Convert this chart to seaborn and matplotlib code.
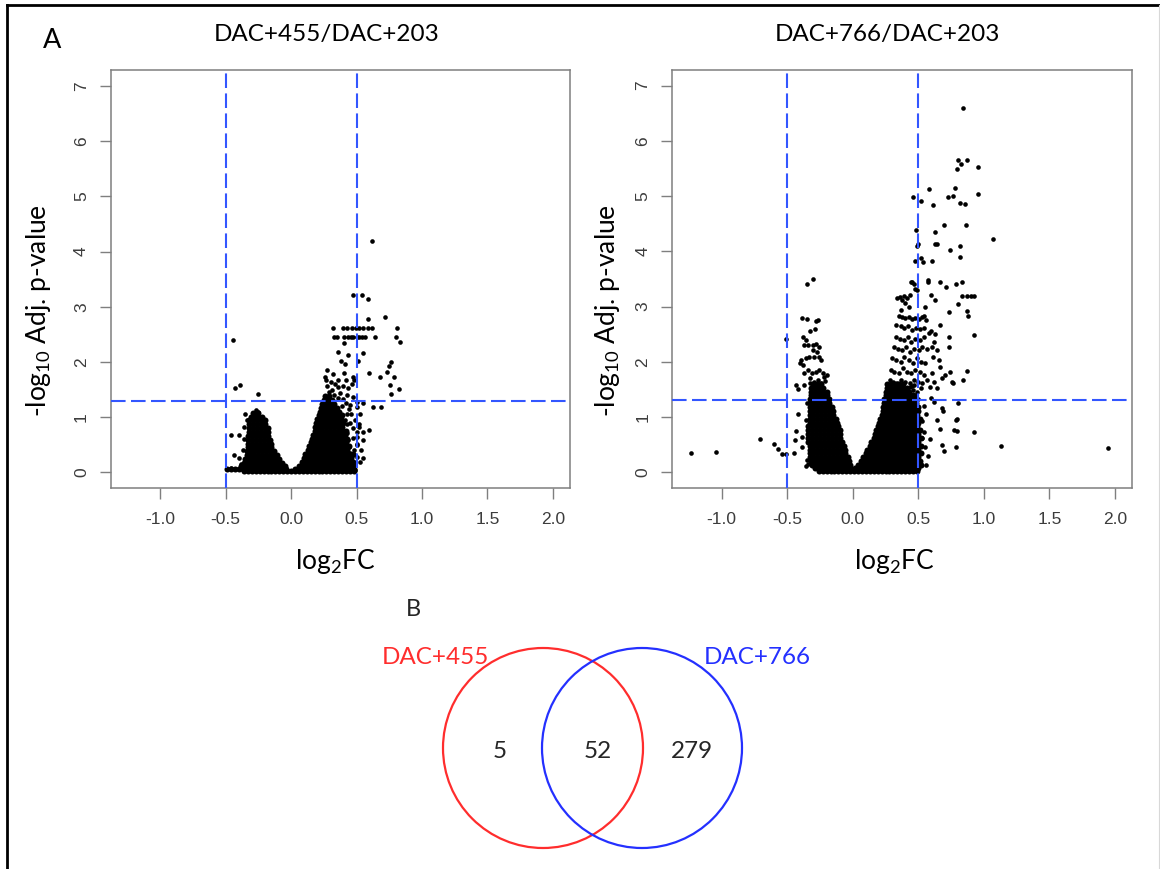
import matplotlib
matplotlib.use('Agg')
import matplotlib.pyplot as plt
import seaborn as sns
import pandas as pd
from matplotlib.patches import Circle
from matplotlib.lines import Line2D

sns.set_style('white')
plt.rcParams['font.family'] = ['Lato', 'DejaVu Sans']
plt.rcParams['mathtext.default'] = 'regular'

# ---------------- data ----------------
panel_titles = ['DAC+455/DAC+203', 'DAC+766/DAC+203']
x_ticks = [-1.0, -0.5, 0.0, 0.5, 1.0, 1.5, 2.0]
x_tick_labels = ['-1.0', '-0.5', '0.0', '0.5', '1.0', '1.5', '2.0']
y_ticks = [0, 1, 2, 3, 4, 5, 6, 7]
fc_cut = 0.5
p_cut = 1.3
venn_names = ['DAC+455', 'DAC+766']
venn_counts = [5, 52, 279]

# DAC+455/DAC+203 : dense core, rows of (-log10 p, [log2FC ...])
L_rows_neg = [
    (1.08, [-0.29, -0.27, -0.25]),
    (1.01, [-0.31, -0.28, -0.25, -0.22]),
    (0.94, [-0.32, -0.29, -0.26, -0.23, -0.20]),
    (0.87, [-0.32, -0.29, -0.26, -0.23, -0.20]),
    (0.80, [-0.32, -0.29, -0.26, -0.23, -0.20, -0.18]),
    (0.73, [-0.32, -0.29, -0.26, -0.23, -0.20, -0.18]),
    (0.66, [-0.33, -0.30, -0.27, -0.24, -0.21, -0.18]),
    (0.59, [-0.33, -0.30, -0.27, -0.24, -0.21, -0.18, -0.16]),
    (0.52, [-0.33, -0.30, -0.27, -0.24, -0.21, -0.18, -0.15]),
    (0.45, [-0.33, -0.30, -0.27, -0.24, -0.21, -0.18, -0.15]),
    (0.38, [-0.34, -0.31, -0.28, -0.25, -0.22, -0.19, -0.16, -0.13]),
    (0.31, [-0.34, -0.31, -0.28, -0.25, -0.22, -0.19, -0.16, -0.13, -0.11]),
    (0.24, [-0.35, -0.32, -0.29, -0.26, -0.23, -0.20, -0.17, -0.14, -0.11, -0.09]),
    (0.17, [-0.36, -0.33, -0.30, -0.27, -0.24, -0.21, -0.18, -0.15, -0.12, -0.09, -0.07]),
    (0.11, [-0.38, -0.35, -0.32, -0.29, -0.26, -0.23, -0.20, -0.17, -0.14, -0.11, -0.08, -0.05]),
    (0.06, [-0.49, -0.46, -0.43, -0.40, -0.37, -0.34, -0.31, -0.28, -0.25, -0.22, -0.19, -0.16,
            -0.13, -0.10, -0.07, -0.04]),
    (0.02, [-0.36, -0.33, -0.30, -0.27, -0.24, -0.21, -0.18, -0.15, -0.12, -0.09, -0.06, -0.03,
            0.00, 0.03, 0.06, 0.09, 0.12, 0.15, 0.18, 0.21, 0.24, 0.27, 0.30, 0.33, 0.36, 0.39,
            0.42, 0.45, 0.48]),
]
L_rows_pos = [
    (1.38, [0.26, 0.29]),
    (1.31, [0.25, 0.28, 0.31]),
    (1.24, [0.24, 0.27, 0.30, 0.33]),
    (1.17, [0.23, 0.26, 0.29, 0.32, 0.35]),
    (1.10, [0.22, 0.25, 0.28, 0.31, 0.34, 0.37]),
    (1.03, [0.21, 0.24, 0.27, 0.30, 0.33, 0.36, 0.39]),
    (0.96, [0.20, 0.23, 0.26, 0.29, 0.32, 0.35, 0.38]),
    (0.89, [0.19, 0.22, 0.25, 0.28, 0.31, 0.34, 0.37, 0.40]),
    (0.82, [0.18, 0.21, 0.24, 0.27, 0.30, 0.33, 0.36, 0.39]),
    (0.75, [0.18, 0.21, 0.24, 0.27, 0.30, 0.33, 0.36, 0.39, 0.42]),
    (0.68, [0.17, 0.20, 0.23, 0.26, 0.29, 0.32, 0.35, 0.38, 0.41]),
    (0.61, [0.16, 0.19, 0.22, 0.25, 0.28, 0.31, 0.34, 0.37, 0.40, 0.43]),
    (0.54, [0.15, 0.18, 0.21, 0.24, 0.27, 0.30, 0.33, 0.36, 0.39, 0.42]),
    (0.47, [0.14, 0.17, 0.20, 0.23, 0.26, 0.29, 0.32, 0.35, 0.38, 0.41, 0.44]),
    (0.40, [0.13, 0.16, 0.19, 0.22, 0.25, 0.28, 0.31, 0.34, 0.37, 0.40, 0.43]),
    (0.33, [0.11, 0.14, 0.17, 0.20, 0.23, 0.26, 0.29, 0.32, 0.35, 0.38, 0.41, 0.44, 0.47]),
    (0.26, [0.10, 0.13, 0.16, 0.19, 0.22, 0.25, 0.28, 0.31, 0.34, 0.37, 0.40, 0.43, 0.46]),
    (0.19, [0.08, 0.11, 0.14, 0.17, 0.20, 0.23, 0.26, 0.29, 0.32, 0.35, 0.38, 0.41, 0.44, 0.47]),
    (0.12, [0.06, 0.09, 0.12, 0.15, 0.18, 0.21, 0.24, 0.27, 0.30, 0.33, 0.36, 0.39, 0.42, 0.45, 0.48]),
    (0.06, [0.03, 0.06, 0.09, 0.12, 0.15, 0.18, 0.21, 0.24, 0.27, 0.30, 0.33, 0.36, 0.39, 0.42,
            0.45, 0.48]),
]
# DAC+455/DAC+203 : individually readable genes (log2FC, -log10 p)
L_points = [
    (0.616, 4.20), (0.471, 3.21), (0.544, 3.21), (0.585, 3.14), (0.720, 2.81), (0.585, 2.77),
    (0.320, 2.62), (0.395, 2.62), (0.427, 2.62), (0.463, 2.62), (0.494, 2.62), (0.519, 2.62),
    (0.552, 2.62), (0.586, 2.62), (0.616, 2.62), (0.810, 2.62),
    (0.330, 2.45), (0.349, 2.45), (0.402, 2.45), (0.433, 2.45), (0.458, 2.45), (0.476, 2.45),
    (0.501, 2.45), (0.522, 2.45), (0.544, 2.45), (0.567, 2.45), (0.639, 2.45), (0.802, 2.45),
    (0.833, 2.36), (0.404, 2.35), (-0.442, 2.39), (0.356, 2.18), (0.433, 2.13), (0.552, 2.16),
    (0.382, 2.01), (0.412, 1.96), (0.514, 2.01), (0.761, 2.00), (0.746, 1.92), (0.272, 1.85),
    (0.402, 1.79), (0.598, 1.80), (0.731, 1.82), (0.682, 1.73), (0.789, 1.73), (0.262, 1.73),
    (0.320, 1.78), (0.358, 1.68), (0.417, 1.67), (0.476, 1.73), (0.756, 1.58), (0.822, 1.51),
    (0.761, 1.41), (-0.431, 1.52), (-0.388, 1.58), (-0.251, 1.41), (0.628, 1.18), (0.687, 1.18),
    (0.550, 1.26), (0.598, 0.77), (-0.462, 0.68), (-0.398, 0.68), (-0.362, 0.82), (-0.434, 0.31),
    (-0.462, 0.08),
    (0.267, 1.67), (0.303, 1.64), (0.277, 1.56), (0.335, 1.60), (0.309, 1.49), (0.360, 1.54),
    (0.399, 1.56), (0.437, 1.52), (0.463, 1.60), (0.481, 1.67), (0.373, 1.43), (0.424, 1.40),
    (0.475, 1.37), (0.506, 1.28), (0.450, 1.22), (0.501, 1.19), (0.526, 1.06), (0.488, 0.94),
    (0.521, 0.88), (0.501, 0.73), (0.547, 0.73), (0.506, 0.64), (0.552, 0.58), (0.501, 0.49),
    (0.532, 0.40), (0.506, 0.28), (0.526, 0.19), (0.470, 0.31), (0.463, 0.13), (0.437, 0.58),
    (0.424, 0.88), (0.386, 0.64), (0.46, 1.05), (0.44, 1.15), (0.47, 0.80), (0.43, 0.72),
    (0.45, 0.35), (0.49, 0.05), (0.50, 0.52), (0.52, 0.82), (0.55, 0.25),
    (0.29, 1.45), (0.33, 1.40), (0.36, 1.35), (0.40, 1.32), (0.42, 1.26), (0.39, 1.20),
    (0.43, 1.05), (0.41, 0.95), (0.45, 0.90), (0.47, 0.62), (0.44, 0.45), (0.48, 0.40),
    (0.46, 0.22), (0.42, 0.30),
    (-0.35, 1.05), (-0.34, 0.95), (-0.36, 0.60), (-0.37, 0.40), (-0.40, 0.25), (-0.38, 0.15),
    (-0.27, 1.12), (-0.25, 1.10),
]

# DAC+766/DAC+203 : dense core
R_rows_neg = [
    (1.60, [-0.30, -0.27, -0.24]),
    (1.53, [-0.32, -0.29, -0.26, -0.23]),
    (1.46, [-0.32, -0.29, -0.26, -0.23, -0.20]),
    (1.39, [-0.32, -0.29, -0.26, -0.23, -0.20]),
    (1.32, [-0.33, -0.30, -0.27, -0.24, -0.21, -0.18]),
    (1.25, [-0.33, -0.30, -0.27, -0.24, -0.21, -0.18]),
    (1.18, [-0.33, -0.30, -0.27, -0.24, -0.21, -0.18, -0.16]),
    (1.11, [-0.33, -0.30, -0.27, -0.24, -0.21, -0.18, -0.15]),
    (1.04, [-0.33, -0.30, -0.27, -0.24, -0.21, -0.18, -0.15]),
    (0.97, [-0.33, -0.30, -0.27, -0.24, -0.21, -0.18, -0.15, -0.13]),
    (0.90, [-0.33, -0.30, -0.27, -0.24, -0.21, -0.18, -0.15, -0.12]),
    (0.83, [-0.34, -0.31, -0.28, -0.25, -0.22, -0.19, -0.16, -0.13, -0.11]),
    (0.76, [-0.34, -0.31, -0.28, -0.25, -0.22, -0.19, -0.16, -0.13, -0.10]),
    (0.69, [-0.34, -0.31, -0.28, -0.25, -0.22, -0.19, -0.16, -0.13, -0.10]),
    (0.62, [-0.34, -0.31, -0.28, -0.25, -0.22, -0.19, -0.16, -0.13, -0.10]),
    (0.55, [-0.34, -0.31, -0.28, -0.25, -0.22, -0.19, -0.16, -0.13, -0.10, -0.08]),
    (0.48, [-0.33, -0.30, -0.27, -0.24, -0.21, -0.18, -0.15, -0.12, -0.09, -0.07]),
    (0.41, [-0.33, -0.30, -0.27, -0.24, -0.21, -0.18, -0.15, -0.12, -0.09, -0.06]),
    (0.34, [-0.33, -0.30, -0.27, -0.24, -0.21, -0.18, -0.15, -0.12, -0.09, -0.06]),
    (0.27, [-0.33, -0.30, -0.27, -0.24, -0.21, -0.18, -0.15, -0.12, -0.09, -0.06, -0.04]),
    (0.20, [-0.32, -0.29, -0.26, -0.23, -0.20, -0.17, -0.14, -0.11, -0.08, -0.05, -0.03]),
    (0.13, [-0.31, -0.28, -0.25, -0.22, -0.19, -0.16, -0.13, -0.10, -0.07, -0.04, -0.02]),
    (0.07, [-0.29, -0.26, -0.23, -0.20, -0.17, -0.14, -0.11, -0.08, -0.05, -0.02]),
    (0.02, [-0.26, -0.23, -0.20, -0.17, -0.14, -0.11, -0.08, -0.05, -0.02, 0.01, 0.04, 0.07,
            0.10, 0.13, 0.16, 0.19, 0.22, 0.25, 0.28, 0.31, 0.34, 0.37, 0.40, 0.43, 0.46, 0.49]),
]
R_rows_pos = [
    (1.60, [0.26, 0.29, 0.32, 0.35, 0.38]),
    (1.53, [0.26, 0.29, 0.32, 0.35, 0.38, 0.41]),
    (1.46, [0.25, 0.28, 0.31, 0.34, 0.37, 0.40, 0.43]),
    (1.39, [0.25, 0.28, 0.31, 0.34, 0.37, 0.40, 0.43, 0.46]),
    (1.32, [0.24, 0.27, 0.30, 0.33, 0.36, 0.39, 0.42, 0.45, 0.48]),
    (1.25, [0.24, 0.27, 0.30, 0.33, 0.36, 0.39, 0.42, 0.45, 0.48]),
    (1.18, [0.23, 0.26, 0.29, 0.32, 0.35, 0.38, 0.41, 0.44, 0.47, 0.50]),
    (1.11, [0.23, 0.26, 0.29, 0.32, 0.35, 0.38, 0.41, 0.44, 0.47, 0.50]),
    (1.04, [0.22, 0.25, 0.28, 0.31, 0.34, 0.37, 0.40, 0.43, 0.46, 0.49]),
    (0.97, [0.21, 0.24, 0.27, 0.30, 0.33, 0.36, 0.39, 0.42, 0.45, 0.48, 0.51]),
    (0.90, [0.20, 0.23, 0.26, 0.29, 0.32, 0.35, 0.38, 0.41, 0.44, 0.47, 0.50]),
    (0.83, [0.19, 0.22, 0.25, 0.28, 0.31, 0.34, 0.37, 0.40, 0.43, 0.46, 0.49]),
    (0.76, [0.18, 0.21, 0.24, 0.27, 0.30, 0.33, 0.36, 0.39, 0.42, 0.45, 0.48, 0.51]),
    (0.69, [0.17, 0.20, 0.23, 0.26, 0.29, 0.32, 0.35, 0.38, 0.41, 0.44, 0.47, 0.50]),
    (0.62, [0.16, 0.19, 0.22, 0.25, 0.28, 0.31, 0.34, 0.37, 0.40, 0.43, 0.46, 0.49, 0.52]),
    (0.55, [0.14, 0.17, 0.20, 0.23, 0.26, 0.29, 0.32, 0.35, 0.38, 0.41, 0.44, 0.47, 0.50]),
    (0.48, [0.13, 0.16, 0.19, 0.22, 0.25, 0.28, 0.31, 0.34, 0.37, 0.40, 0.43, 0.46, 0.49, 0.52]),
    (0.41, [0.11, 0.14, 0.17, 0.20, 0.23, 0.26, 0.29, 0.32, 0.35, 0.38, 0.41, 0.44, 0.47, 0.50]),
    (0.34, [0.10, 0.13, 0.16, 0.19, 0.22, 0.25, 0.28, 0.31, 0.34, 0.37, 0.40, 0.43, 0.46, 0.49,
            0.52]),
    (0.27, [0.08, 0.11, 0.14, 0.17, 0.20, 0.23, 0.26, 0.29, 0.32, 0.35, 0.38, 0.41, 0.44, 0.47,
            0.50]),
    (0.20, [0.06, 0.09, 0.12, 0.15, 0.18, 0.21, 0.24, 0.27, 0.30, 0.33, 0.36, 0.39, 0.42, 0.45,
            0.48, 0.51]),
    (0.13, [0.04, 0.07, 0.10, 0.13, 0.16, 0.19, 0.22, 0.25, 0.28, 0.31, 0.34, 0.37, 0.40, 0.43,
            0.46, 0.49, 0.52]),
    (0.07, [0.02, 0.05, 0.08, 0.11, 0.14, 0.17, 0.20, 0.23, 0.26, 0.29, 0.32, 0.35, 0.38, 0.41,
            0.44, 0.47, 0.50]),
]
R_points = [
    (0.838, 6.60), (0.803, 5.65), (0.871, 5.65), (0.823, 5.58), (0.795, 5.48), (0.952, 5.53),
    (0.583, 5.13), (0.460, 4.98), (0.518, 4.91), (0.609, 4.83), (0.730, 4.98), (0.763, 5.00),
    (0.778, 5.15), (0.818, 4.88), (0.853, 4.85), (0.952, 5.03), (0.695, 4.48), (0.864, 4.48),
    (0.485, 4.39), (0.628, 4.34), (1.066, 4.23), (0.495, 4.13), (0.490, 4.09), (0.628, 4.14),
    (0.643, 4.13), (0.815, 4.09), (0.740, 4.02), (0.815, 3.89), (0.477, 3.82), (0.520, 3.88),
    (0.535, 3.81), (0.603, 3.82), (0.455, 3.45), (0.487, 3.30), (0.571, 3.48), (0.576, 3.45),
    (0.667, 3.45), (0.710, 3.35), (0.785, 3.41), (0.831, 3.45), (0.596, 3.20), (0.629, 3.12),
    (0.737, 2.90), (0.806, 3.05), (0.836, 3.19), (0.869, 3.19), (0.902, 3.19), (0.924, 3.19),
    (0.874, 2.92), (0.879, 2.83), (0.667, 2.67), (0.927, 2.48), (0.737, 2.45), (0.732, 2.27),
    (0.874, 1.83), (0.838, 1.67), (0.760, 1.63), (0.803, 1.26), (0.679, 1.16), (0.687, 1.10),
    (0.795, 0.97), (0.790, 0.94), (0.662, 0.78), (0.770, 0.76), (0.798, 0.74), (0.927, 0.73),
    (1.134, 0.48), (1.944, 0.44), (0.682, 0.49), (0.692, 0.38), (0.785, 0.46),
    (-0.705, 0.61), (-0.601, 0.51), (-0.571, 0.42), (-0.540, 0.33), (-0.513, 0.33),
    (-0.444, 0.59), (-0.389, 0.64), (-0.389, 0.45), (-1.235, 0.34), (-1.045, 0.36),
    (-0.508, 2.41), (-0.351, 3.41), (-0.306, 3.50), (-0.389, 2.79), (-0.351, 2.77),
    (-0.283, 2.73), (-0.268, 2.75), (-0.381, 2.45), (-0.369, 2.30), (-0.343, 2.30),
    (-0.306, 2.30), (-0.280, 2.33), (-0.255, 2.27), (-0.394, 2.03), (-0.381, 1.94),
    (-0.356, 2.06), (-0.331, 2.09), (-0.293, 2.09), (-0.255, 2.09), (-0.242, 2.03),
    (-0.369, 1.79), (-0.343, 1.85), (-0.313, 1.79), (-0.280, 1.82), (-0.255, 1.85),
    (-0.230, 1.79), (-0.432, 1.58), (-0.369, 1.58), (-0.323, 1.61), (-0.293, 1.64),
    (-0.268, 1.67), (-0.242, 1.61), (-0.217, 1.73), (-0.197, 1.76), (-0.42, 1.05),
    (-0.43, 0.75), (-0.36, 0.12), (-0.34, 0.15), (-0.35, 0.22), (-0.45, 0.35), (-0.42, 1.50),
    (-0.40, 1.98), (-0.36, 2.40), (-0.30, 2.22), (-0.27, 2.18), (-0.33, 2.55), (-0.29, 2.60),
    (-0.35, 1.25), (-0.36, 0.95), (-0.21, 1.66), (-0.33, 1.70),
    (0.338, 3.15), (0.359, 3.18), (0.376, 3.12), (0.394, 3.19), (0.414, 3.15), (0.434, 3.21),
    (0.402, 3.06), (0.427, 3.00), (0.369, 2.94), (0.447, 3.45), (0.465, 3.41), (0.472, 3.31),
    (0.351, 2.82), (0.376, 2.81), (0.402, 2.79), (0.427, 2.81), (0.452, 2.77), (0.477, 2.80),
    (0.503, 2.78), (0.528, 2.81), (0.540, 2.83),
    (0.333, 2.67), (0.364, 2.64), (0.394, 2.61), (0.419, 2.64), (0.452, 2.58), (0.485, 2.62),
    (0.515, 2.59), (0.540, 2.61),
    (0.326, 2.45), (0.359, 2.42), (0.389, 2.39), (0.419, 2.45), (0.444, 2.36), (0.477, 2.42),
    (0.510, 2.39), (0.540, 2.45), (0.578, 2.52), (0.629, 2.50),
    (0.313, 2.27), (0.343, 2.24), (0.376, 2.21), (0.409, 2.27), (0.434, 2.18), (0.470, 2.24),
    (0.503, 2.21), (0.528, 2.27), (0.566, 2.24), (0.604, 2.27), (0.641, 2.21),
    (0.301, 2.06), (0.333, 2.03), (0.364, 2.00), (0.394, 2.09), (0.427, 2.03), (0.460, 1.97),
    (0.490, 2.06), (0.520, 2.00), (0.553, 1.97), (0.611, 2.09), (0.654, 2.03),
    (0.288, 1.85), (0.318, 1.82), (0.351, 1.79), (0.384, 1.88), (0.414, 1.82), (0.444, 1.79),
    (0.477, 1.85), (0.510, 1.82), (0.540, 1.76), (0.604, 1.79), (0.667, 1.91), (0.705, 1.76),
    (0.742, 1.82), (0.768, 1.61),
    (0.283, 1.67), (0.308, 1.64), (0.338, 1.61), (0.369, 1.67), (0.402, 1.64), (0.434, 1.61),
    (0.465, 1.67), (0.495, 1.64), (0.528, 1.61), (0.566, 1.67), (0.616, 1.64), (0.679, 1.70),
    (0.268, 1.49), (0.301, 1.46), (0.331, 1.52), (0.364, 1.46), (0.394, 1.49), (0.427, 1.46),
    (0.460, 1.49), (0.490, 1.46), (0.520, 1.52), (0.586, 1.55), (0.641, 1.52),
    (0.455, 1.56), (0.48, 1.40), (0.50, 1.33), (0.47, 1.58), (0.44, 1.54),
    (0.544, 0.72), (0.558, 0.14), (0.53, 0.93), (0.56, 1.05), (0.55, 0.45), (0.54, 1.20),
    (0.57, 0.30), (0.53, 0.62), (0.60, 1.35), (0.62, 1.28), (0.64, 0.95), (0.59, 0.60),
    (0.55, 3.00), (0.56, 2.75), (0.60, 2.55), (0.62, 2.35),
]


def build_frame(rows_a, rows_b, points, name):
    recs = []
    for rows in (rows_a, rows_b):
        for yv, xs in rows:
            for xv in xs:
                recs.append((xv, yv, 'core'))
    for xv, yv in points:
        recs.append((xv, yv, 'gene'))
    df = pd.DataFrame(recs, columns=['log2FC', 'nlogp', 'kind'])
    df['comparison'] = name
    return df


data = pd.concat([
    build_frame(L_rows_neg, L_rows_pos, L_points, panel_titles[0]),
    build_frame(R_rows_neg, R_rows_pos, R_points, panel_titles[1]),
], ignore_index=True)

# ---------------- figure ----------------
W, H = 1160, 869
fig = plt.figure(figsize=(W / 100, H / 100), dpi=100)
fig.patch.set_facecolor('white')

axes_px = [(110.7, 70, 570, 488), (672, 69.5, 1132.3, 488)]
line_blue = '#3356ff'
spine_grey = '#7f7f7f'

for i, (x0, y0, x1, y1) in enumerate(axes_px):
    ax = fig.add_axes([x0 / W, 1 - y1 / H, (x1 - x0) / W, (y1 - y0) / H])
    sub = data[data['comparison'] == panel_titles[i]]
    sns.scatterplot(data=sub[sub['kind'] == 'core'], x='log2FC', y='nlogp', ax=ax,
                    color='black', s=19, linewidth=0, legend=False, zorder=2)
    sns.scatterplot(data=sub[sub['kind'] == 'gene'], x='log2FC', y='nlogp', ax=ax,
                    color='black', s=11, linewidth=0, legend=False, zorder=2)
    ax.axvline(-fc_cut, color=line_blue, lw=1.5, dashes=(7, 2.6), zorder=3)
    ax.axvline(fc_cut, color=line_blue, lw=1.5, dashes=(7, 2.6), zorder=3)
    ax.axhline(p_cut, color=line_blue, lw=1.5, dashes=(7, 2.6), zorder=3)
    ax.set_xlim(-1.379, 2.132)
    ax.set_ylim(-0.285, 7.29)
    ax.set_xticks(x_ticks)
    ax.set_xticklabels(x_tick_labels)
    ax.set_yticks(y_ticks)
    ax.set_yticklabels([str(v) for v in y_ticks])
    ax.set_xlabel('')
    ax.set_ylabel('')
    ax.tick_params(axis='both', which='both', direction='out', length=7.7, width=1.0,
                   color=spine_grey, labelsize=12.5, labelcolor='#3c3c3c',
                   bottom=True, left=True, top=False, right=False)
    ax.tick_params(axis='x', pad=9.5)
    ax.tick_params(axis='y', pad=8, labelrotation=90)
    for lbl in ax.get_xticklabels() + ax.get_yticklabels():
        lbl.set_fontfamily(['Liberation Sans', 'DejaVu Sans'])
    for lbl in ax.get_yticklabels():
        lbl.set_va('center')
    for sp in ax.spines.values():
        sp.set_color(spine_grey)
        sp.set_linewidth(1.1)
        sp.set_visible(True)
    ax.grid(False)

# panel titles and axis labels
title_cx = [327, 887]
ylab_cx = [39, 607]
xlab_cx = [335, 894]
for i in range(2):
    fig.text(title_cx[i] / W, 1 - 35 / H, panel_titles[i], ha='center', va='center',
             fontsize=17.5, color='black')
    fig.text(ylab_cx[i] / W, 1 - 311 / H, '-log$_{10}$ Adj. p-value', rotation=90,
             ha='center', va='center', fontsize=19, color='black')
    fig.text(xlab_cx[i] / W, 1 - 562 / H, 'log$_{2}$FC', ha='center', va='center',
             fontsize=19, color='black')

fig.text(52.5 / W, 1 - 40 / H, 'A', ha='center', va='center', fontsize=19.5, color='black')

# ---------------- Venn diagram ----------------
vx0, vy0, vx1, vy1 = 380, 590, 810, 869
vax = fig.add_axes([vx0 / W, 1 - vy1 / H, (vx1 - vx0) / W, (vy1 - vy0) / H])
vax.set_xlim(-2.125, 2.175)
vax.set_ylim(-1.21, 1.58)
vax.axis('off')
red = '#ff2d2d'
blue = '#2430ff'
vax.add_patch(Circle((-0.495, 0), 1.0, fill=False, edgecolor=red, lw=1.6))
vax.add_patch(Circle((0.495, 0), 1.0, fill=False, edgecolor=blue, lw=1.6))
vax.text(-1.575, 0.91, venn_names[0], color=red, ha='center', va='center', fontsize=17.5)
vax.text(1.645, 0.91, venn_names[1], color=blue, ha='center', va='center', fontsize=17.5)
vax.text(-0.925, -0.04, str(venn_counts[0]), ha='center', va='center', fontsize=17.5)
vax.text(0.055, -0.04, str(venn_counts[1]), ha='center', va='center', fontsize=17.5)
vax.text(0.995, -0.04, str(venn_counts[2]), ha='center', va='center', fontsize=17.5)
vax.text(-1.795, 1.38, 'B', ha='center', va='center', fontsize=17)

# outer frame of the composite figure
fig.add_artist(Line2D([6.7 / W, 6.7 / W], [0, 1 - 4.5 / H], transform=fig.transFigure,
                      color='black', lw=2.0, solid_capstyle='projecting'))
fig.add_artist(Line2D([6.7 / W, 1159 / W], [1 - 4.5 / H, 1 - 4.5 / H],
                      transform=fig.transFigure, color='black', lw=2.0,
                      solid_capstyle='projecting'))
fig.add_artist(Line2D([1159 / W, 1159 / W], [0, 1 - 4.5 / H], transform=fig.transFigure,
                      color='#d8d8d8', lw=0.8))

fig.savefig('out.png', dpi=100, facecolor='white')
